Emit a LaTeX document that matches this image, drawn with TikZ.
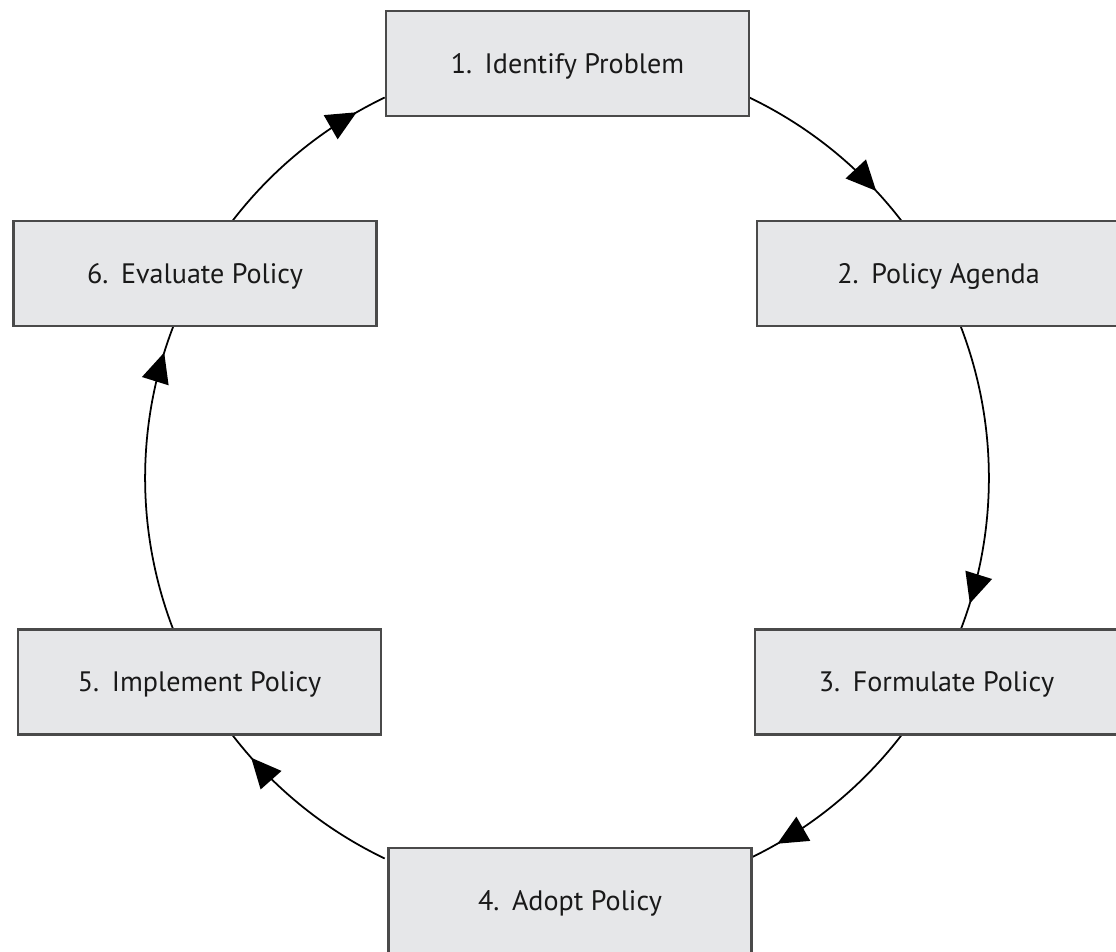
\documentclass[tikz,border=0pt]{standalone}
\usepackage{fontspec}
\setsansfont{PT Sans}
\usepackage{tikz}
\usetikzlibrary{calc,arrows.meta,decorations.markings}
\definecolor{boxfill}{HTML}{E6E7E9}
\definecolor{boxline}{HTML}{4A4A4A}

\begin{document}
\begin{tikzpicture}[x=0.02cm,y=-0.02cm,
    stage/.style={draw=boxline,line width=1.2pt,fill=boxfill,minimum width=7.26cm,
      minimum height=2.1cm,inner sep=0pt,text=black!90,text depth=0pt,
      font=\sffamily\fontsize{16}{19}\selectfont},
    flow/.style={line width=1pt,postaction={decorate},
      decoration={markings,mark=at position #1 with {\arrow{Triangle[length=0.6cm,width=0.55cm]}}}},
    flow/.default=0.8]

    % Rahmen des Bildes
    \useasboundingbox (0,0) rectangle (1116,952);

    % Mittelpunkt des Kreises
    \coordinate (ctr) at (567,478);
    \def\R{8.44cm}

    % Punkte auf dem Kreis, an denen die Bogen an die Kasten stossen
    \coordinate (s12) at ($(ctr)+(64.4:\R)$);
    \coordinate (s23) at ($(ctr)+(21.1:\R)$);
    \coordinate (s34) at ($(ctr)+(-37.5:\R)$);
    \coordinate (s45) at ($(ctr)+(-115.6:\R)$);
    \coordinate (s56) at ($(ctr)+(201.1:\R)$);
    \coordinate (s61) at ($(ctr)+(142.5:\R)$);

    % Bogen mit Pfeil
    \draw[flow] (s12) arc[start angle=64.4,end angle=37.5,radius=\R];
    \draw[flow=0.91] (s23) arc[start angle=21.1,end angle=-21.1,radius=\R];
    \draw[flow=0.84] (s34) arc[start angle=-37.5,end angle=-64.4,radius=\R];
    \draw[flow=0.85] (s45) arc[start angle=244.4,end angle=217.5,radius=\R];
    \draw[flow=0.91] (s56) arc[start angle=201.1,end angle=158.9,radius=\R];
    \draw[flow=0.84] (s61) arc[start angle=142.5,end angle=115.6,radius=\R];

    % Kasten
    \node[stage] (identify) at (567.5,63.5) {1.\hspace{0.45em}Identify Problem};
    \node[stage] (agenda) at (938.5,273.5) {2.\hspace{0.45em}Policy Agenda};
    \node[stage] (formulate) at (936.5,682) {3.\hspace{0.45em}Formulate Policy};
    \node[stage] (adopt) at (570,900.5) {4.\hspace{0.45em}Adopt Policy};
    \node[stage] (implement) at (199.5,682) {5.\hspace{0.45em}Implement Policy};
    \node[stage] (evaluate) at (195,273.5) {6.\hspace{0.45em}Evaluate Policy};

\end{tikzpicture}
\end{document}
